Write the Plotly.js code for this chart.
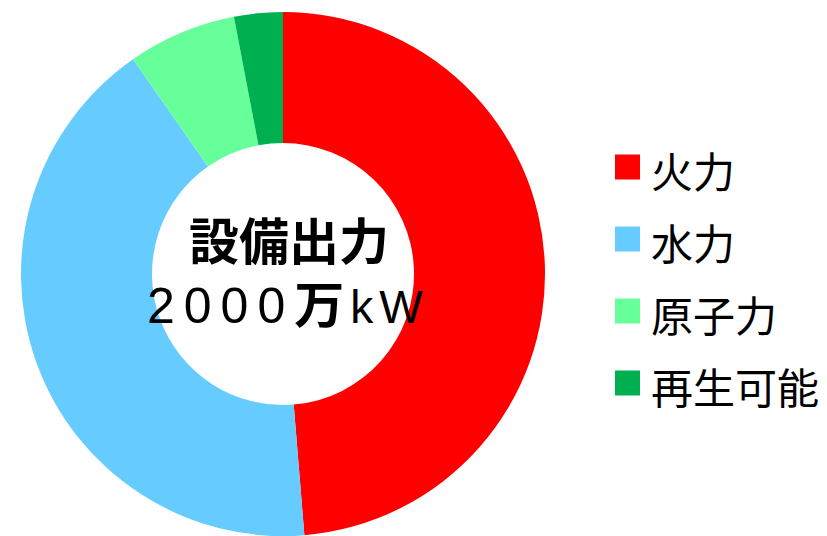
<!DOCTYPE html>
<html>
<head>
<meta charset="utf-8">
<script src="https://cdn.plot.ly/plotly-3.0.1.min.js"></script>
<style>html,body{margin:0;padding:0;background:#fff;}#chart{width:827px;height:536px;}</style>
</head>
<body>
<div id="chart"></div>
<script>
const labels = ["火力", "水力", "原子力", "再生可能"];
const values = [48.7, 41.6, 6.7, 3.0];
const colors = ["#FF0000", "#66CCFF", "#66FF99", "#00B050"];
const centerTitle = "設備出力";
const centerValue = "2000";
const centerUnit = "万";
const centerUnit2 = "kW";

const W = 827, H = 536, mt = 12, mb = 0;
const ph = H - mt - mb;
const py = y => (H - mb - y) / ph;   // pixel-from-top -> paper y
const px = x => x / W;

const FONT = "'Liberation Sans', Arial, 'Noto Sans CJK JP', sans-serif";

const shapes = [];
const annotations = [];
labels.forEach((lab, i) => {
  const cy = 167 + i * 72;
  shapes.push({type: "rect", xref: "paper", yref: "paper",
    x0: px(615), x1: px(640), y0: py(cy + 12.5), y1: py(cy - 12.5),
    fillcolor: colors[i], line: {width: 0}});
  annotations.push({xref: "paper", yref: "paper", x: px(649), y: py(cy + 2),
    xanchor: "left", yanchor: "middle", showarrow: false, text: lab,
    font: {family: "'Noto Sans CJK JP', sans-serif", size: 42, color: "#000"}});
});
annotations.push({xref: "paper", yref: "paper", x: px(289), y: py(243),
  xanchor: "center", yanchor: "middle", showarrow: false,
  text: "<b>" + centerTitle + "</b>",
  font: {family: FONT, size: 50, color: "#000"}});
annotations.push({xref: "paper", yref: "paper", x: px(288), y: py(306),
  xanchor: "center", yanchor: "middle", showarrow: false,
  text: "<span style='letter-spacing:9px'>" + centerValue + "</span><b><span style='letter-spacing:6px'>" + centerUnit +
        "</span></b><span style='font-size:46px;letter-spacing:6px'>" + centerUnit2 + "</span>",
  font: {family: FONT, size: 50, color: "#000"}});

const data = [{
  type: "pie",
  labels: labels,
  values: values,
  marker: {colors: colors, line: {width: 0}},
  hole: 0.5,
  sort: false,
  direction: "clockwise",
  rotation: 0,
  textinfo: "none",
  hoverinfo: "label+value",
  showlegend: false,
  domain: {x: [px(21), px(545)], y: [0, 1]}
}];

const layout = {
  width: W, height: H,
  margin: {l: 0, r: 0, t: mt, b: mb, pad: 0},
  paper_bgcolor: "#fff",
  showlegend: false,
  shapes: shapes,
  annotations: annotations
};

Plotly.newPlot("chart", data, layout, {displayModeBar: false, staticPlot: true});
</script>
</body>
</html>
